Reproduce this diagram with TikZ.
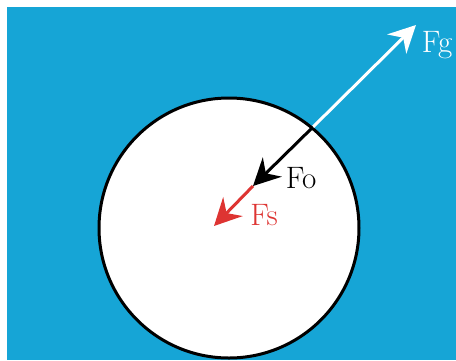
\documentclass[tikz,border=0pt]{standalone}
\usepackage{fontspec}
\usepackage{xcolor}
\usepackage{tikz}
\usetikzlibrary{arrows.meta}
\definecolor{water}{RGB}{22,165,214}
\definecolor{forcered}{RGB}{222,52,50}

\tikzset{
  force/.style={line width=3pt,-{Stealth[length=27pt,width=27pt,inset=9pt]}},
  flabel/.style={font=\fontsize{31}{36}\selectfont,inner sep=0pt}
}

\begin{document}
\begin{tikzpicture}[x=1pt,y=-1pt]
\useasboundingbox (0,0) rectangle (456,360);
\fill[water] (7,7) rectangle (456,360);
% the ball
\node[circle,draw=black,fill=white,line width=3pt,minimum size=260pt,inner sep=0pt] (ball) at (229,228) {};
% forces
\coordinate (rim) at (313,127);
\coordinate (tipG) at (416,25);
\coordinate (tipO) at (253,186);
\coordinate (tipS) at (214,226);
\draw[force,white] (rim) -- (tipG);
\draw[force,black] (rim) -- (tipO);
\draw[force,forcered] (tipO) -- (tipS);
\node[flabel,text=white] (fg) at (437,45) {Fg};
\node[flabel,text=black] (fo) at (301,178) {Fo};
\node[flabel,text=forcered] (fs) at (264,215) {Fs};
\end{tikzpicture}
\end{document}
